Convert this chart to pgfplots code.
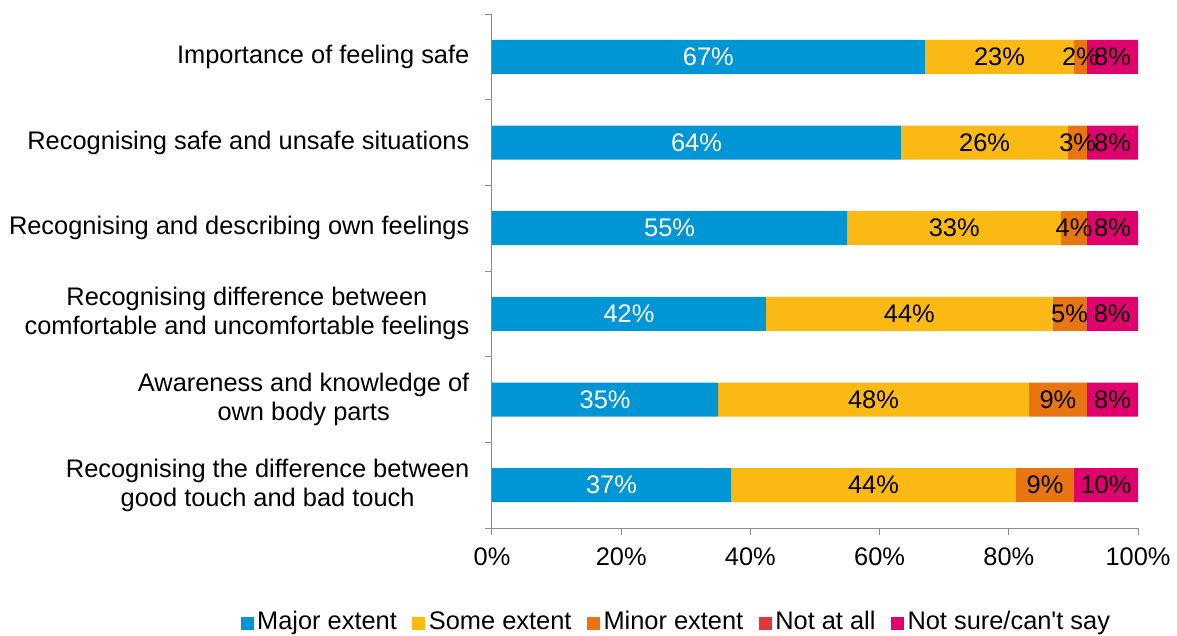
\documentclass[border=0pt]{standalone}
\usepackage{pgfplots}
\pgfplotsset{compat=1.18}
\usepackage{pgfplotstable}
\usepackage{fontspec}
\setmainfont{Liberation Sans}
\definecolor{cMajor}{HTML}{0096D6}
\definecolor{cSome}{HTML}{FBB913}
\definecolor{cMinor}{HTML}{E87511}
\definecolor{cNot}{HTML}{E3353D}
\definecolor{cUnsure}{HTML}{E0006E}
\definecolor{axgray}{HTML}{8C8C8C}

\pgfplotstableread{
y major some minor notatall unsure
0 37.0 44.1 9.0 0 9.9
1 35.0 48.1 9.0 0 7.9
2 42.4 44.4 5.2 0 8.0
3 55.0 33.1 4.0 0 7.9
4 63.3 25.9 2.9 0 7.9
5 67.0 23.1 2.0 0 7.9
}\datatable

\pgfplotstableread{
x y lab
18.5 0 37
17.5 1 35
21.2 2 42
27.5 3 55
31.65 4 64
33.5 5 67
}\whitelabels

\pgfplotstableread{
x y lab
59.05 0 44
59.05 1 48
64.6 2 44
71.55 3 33
76.25 4 26
78.55 5 23
85.6 0 9
87.6 1 9
89.4 2 5
90.1 3 4
90.65 4 3
91.1 5 2
95.05 0 10
96.05 1 8
96.0 2 8
96.05 3 8
96.05 4 8
96.05 5 8
}\blacklabels

\begin{document}
\fontsize{25.4}{29}\selectfont
\begin{tikzpicture}
\useasboundingbox (-492pt,-107pt) rectangle (685pt,528pt);
\begin{axis}[
  at={(0pt,0pt)}, anchor=south west,
  scale only axis, width=646pt, height=514pt,
  xmin=0, xmax=100, ymin=-0.5, ymax=5.5,
  xbar stacked, bar width=34pt,
  axis lines*=left,
  axis line style={axgray, line width=1pt},
  tick style={axgray, line width=1pt},
  tick align=outside,
  major tick length=6.5pt,
  xtick={0,20,40,60,80,100},
  xticklabels={0\%,20\%,40\%,60\%,80\%,100\%},
  xticklabel style={yshift=-5pt},
  ytick={-0.5,0.5,1.5,2.5,3.5,4.5,5.5},
  yticklabels={},
  extra y ticks={0,1,2,3,4,5},
  extra y tick labels={{Recognising the difference between\\good touch and bad touch},
    {Awareness and knowledge of\\own body parts},
    {Recognising difference between\\comfortable and uncomfortable feelings},
    {Recognising and describing own feelings},
    {Recognising safe and unsafe situations},
    {Importance of feeling safe}},
  extra y tick style={major tick length=0pt},
  yticklabel style={align=center, xshift=-14pt},
  legend columns=-1,
  legend image code/.code={\fill[#1, draw=none] (0pt,-8pt) rectangle (13pt,5pt);},
  legend style={at={(axis description cs:-0.3940,-0.183)}, anchor=west,
    draw=none, fill=none, nodes={inner sep=3.5pt},
    /tikz/every even column/.append style={column sep=12pt}},
]
\addplot[fill=cMajor, draw=none] table[x=major, y=y]{\datatable};
\addplot[fill=cSome, draw=none] table[x=some, y=y]{\datatable};
\addplot[fill=cMinor, draw=none] table[x=minor, y=y]{\datatable};
\addplot[fill=cNot, draw=none] table[x=notatall, y=y]{\datatable};
\addplot[fill=cUnsure, draw=none] table[x=unsure, y=y]{\datatable};
\legend{Major extent, Some extent, Minor extent, Not at all, Not sure/can\textquotesingle t say}
\end{axis}
\begin{axis}[
  at={(0pt,0pt)}, anchor=south west,
  scale only axis, width=646pt, height=514pt,
  xmin=0, xmax=100, ymin=-0.5, ymax=5.5,
  hide axis,
  nodes near coords={\pgfplotspointmeta\%},
  point meta=explicit symbolic,
  nodes near coords style={anchor=center},
]
\addplot[draw=none, mark=none, nodes near coords style={text=white}] table[x=x, y=y, meta=lab]{\whitelabels};
\addplot[draw=none, mark=none, nodes near coords style={text=black}] table[x=x, y=y, meta=lab]{\blacklabels};
\end{axis}
\end{tikzpicture}
\end{document}
